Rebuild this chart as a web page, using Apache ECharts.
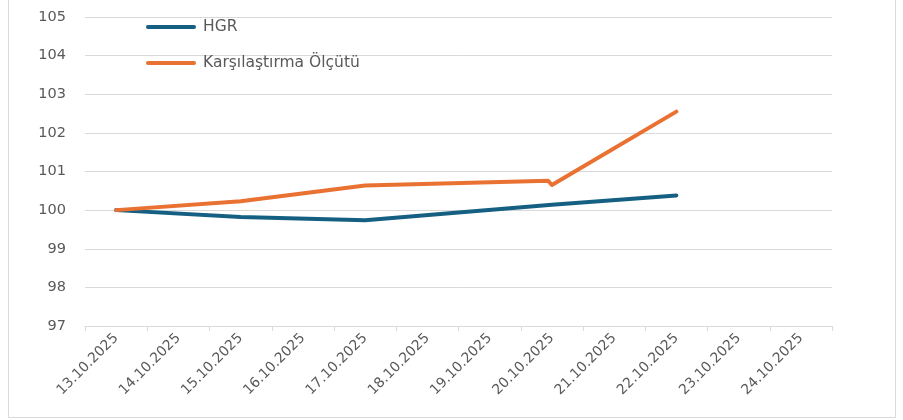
<!DOCTYPE html>
<html>
<head>
<meta charset="utf-8">
<script src="https://cdn.jsdelivr.net/npm/echarts@6/dist/echarts.min.js"></script>
<style>html,body{margin:0;padding:0;background:#fff;}#c{width:903px;height:420px;}</style>
</head>
<body>
<div id="c"></div>
<script>
const categories = ['13.10.2025','14.10.2025','15.10.2025','16.10.2025','17.10.2025','18.10.2025','19.10.2025','20.10.2025','21.10.2025','22.10.2025','23.10.2025','24.10.2025'];
const yTicks = [97, 98, 99, 100, 101, 102, 103, 104, 105];
const seriesNames = ['HGR', 'Karşılaştırma Ölçütü'];
// positions are day indexes on the category axis (0 = 13.10.2025)
const hgrDays = [0, 2, 4, 7, 9];
const hgrValues = [100, 99.82, 99.74, 100.14, 100.38];
const benchDays = [0, 2, 4, 6.94, 7, 9];
const benchValues = [100, 100.23, 100.64, 100.76, 100.65, 102.55];

const colors = ['#156082', '#E97132'];
const font = 'DejaVu Sans';
const pair = (xs, ys) => xs.map((x, i) => [x, ys[i]]);

const chart = echarts.init(document.getElementById('c'), null, {renderer: 'canvas'});
chart.setOption({
  animation: false,
  backgroundColor: '#fff',
  textStyle: {fontFamily: font},
  graphic: [{
    type: 'rect', silent: true,
    shape: {x: 8.5, y: -5, width: 887, height: 422.5},
    style: {fill: 'none', stroke: '#d9d9d9', lineWidth: 1}
  }],
  grid: {left: 85, right: 71, top: 17, bottom: 94},
  legend: {
    orient: 'vertical', left: 141, top: 14,
    icon: 'path://M2,0 L48,0 A2,2 0 0 1 48,4 L2,4 A2,2 0 0 1 2,0 Z',
    itemWidth: 50, itemHeight: 4, itemGap: 20,
    textStyle: {color: '#595959', fontSize: 15.5, fontFamily: font, padding: [0, 0, 0, 2]},
    data: seriesNames.map((n, i) => ({name: n, itemStyle: {color: colors[i]}}))
  },
  xAxis: [{
    type: 'category', data: categories, boundaryGap: true,
    axisLine: {lineStyle: {color: '#d9d9d9', width: 1}},
    axisTick: {show: true, length: 5, lineStyle: {color: '#d9d9d9'}},
    axisLabel: {rotate: 45, color: '#595959', fontSize: 14, margin: 10, interval: 0, fontFamily: font},
    splitLine: {show: false}
  }, {
    type: 'value', min: -0.5, max: categories.length - 0.5, show: false
  }],
  yAxis: {
    type: 'value', min: yTicks[0], max: yTicks[yTicks.length - 1], interval: 1,
    axisLine: {show: false}, axisTick: {show: false},
    axisLabel: {color: '#595959', fontSize: 14.5, margin: 19, fontFamily: font},
    splitLine: {lineStyle: {color: '#d9d9d9', width: 1}}
  },
  series: [{
    name: seriesNames[0], type: 'line', xAxisIndex: 1,
    data: pair(hgrDays, hgrValues), symbol: 'none',
    lineStyle: {color: colors[0], width: 4, cap: 'round', join: 'round'},
    itemStyle: {color: colors[0]}
  }, {
    name: seriesNames[1], type: 'line', xAxisIndex: 1,
    data: pair(benchDays, benchValues), symbol: 'none',
    lineStyle: {color: colors[1], width: 4, cap: 'round', join: 'round'},
    itemStyle: {color: colors[1]}
  }]
});
</script>
</body>
</html>
